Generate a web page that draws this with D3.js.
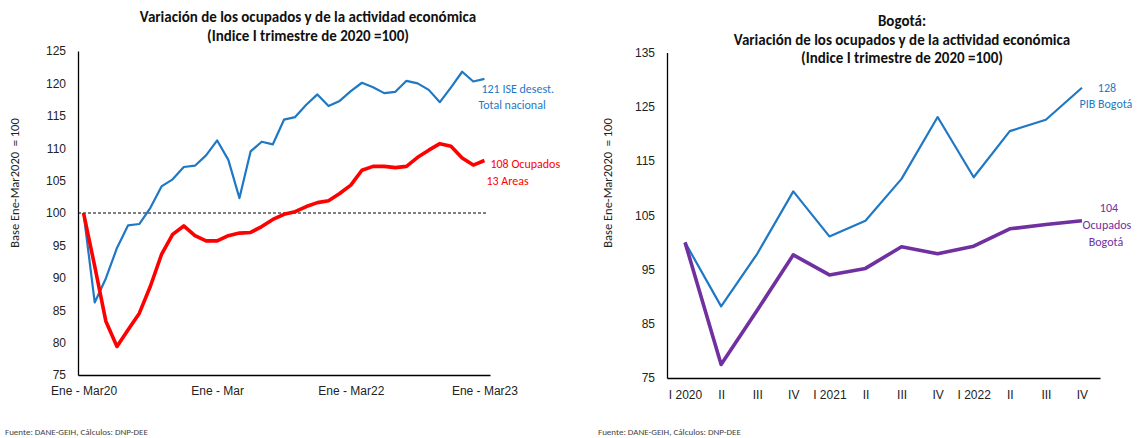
<!DOCTYPE html>
<html>
<head>
<meta charset="utf-8">
<script src="https://cdn.jsdelivr.net/npm/d3@7"></script>
<style>
	body { margin: 0; background: #ffffff; }
	svg { display: block; font-family: Carlito, Calibri, Lato, sans-serif; }
</style>
</head>
<body>
<div id="Main_Part"></div>
<script>

// ---- left chart: trimestre movil, Ene-Mar20 .. Ene-Mar23
var MonthCategories = ["Ene-Mar20","Feb-Abr20","Mar-May20","Abr-Jun20","May-Jul20","Jun-Ago20","Jul-Sep20","Ago-Oct20","Sep-Nov20","Oct-Dic20","Nov-Ene21","Dic-Feb21",
	"Ene-Mar21","Feb-Abr21","Mar-May21","Abr-Jun21","May-Jul21","Jun-Ago21","Jul-Sep21","Ago-Oct21","Sep-Nov21","Oct-Dic21","Nov-Ene22","Dic-Feb22",
	"Ene-Mar22","Feb-Abr22","Mar-May22","Abr-Jun22","May-Jul22","Jun-Ago22","Jul-Sep22","Ago-Oct22","Sep-Nov22","Oct-Dic22","Nov-Ene23","Dic-Feb23",
	"Ene-Mar23"];
var MonthTickValues = ["Ene-Mar20","Ene-Mar21","Ene-Mar22","Ene-Mar23"];
var MonthTickLabels = ["Ene - Mar20","Ene - Mar","Ene - Mar22","Ene - Mar23"];
var IseValues = [100, 86.2, 89.9, 94.6, 98.1, 98.3, 100.8, 104.1, 105.2, 107.1, 107.3, 108.9,
	111.2, 108.2, 102.3, 109.5, 111.0, 110.6, 114.4, 114.8, 116.7, 118.3, 116.5, 117.3,
	118.8, 120.1, 119.4, 118.5, 118.7, 120.4, 120.0, 119.0, 117.1, 119.4, 121.8, 120.3,
	120.7];
var OcupadosValues = [100, 91.8, 83.3, 79.4, 82.0, 84.5, 88.7, 93.6, 96.7, 98.0, 96.5, 95.7,
	95.7, 96.5, 96.9, 97.0, 97.9, 99.0, 99.8, 100.2, 101.0, 101.6, 101.9, 103.0,
	104.3, 106.6, 107.2, 107.2, 107.0, 107.2, 108.6, 109.7, 110.7, 110.3, 108.5, 107.4,
	108.1];
var LeftTicks = [75, 80, 85, 90, 95, 100, 105, 110, 115, 120, 125];

// ---- right chart: Bogota trimestral
var QuarterCategories = ["2020-I","2020-II","2020-III","2020-IV","2021-I","2021-II","2021-III","2021-IV","2022-I","2022-II","2022-III","2022-IV"];
var QuarterLabels = ["I 2020","II","III","IV","I 2021","II","III","IV","I 2022","II","III","IV"];
var PibBogotaValues = [100, 88.2, 97.9, 109.4, 101.1, 104.0, 111.7, 123.1, 112.0, 120.5, 122.6, 128.5];
var OcupadosBogotaValues = [100, 77.5, 87.5, 97.7, 94.0, 95.2, 99.2, 97.9, 99.3, 102.5, 103.3, 104.0];
var RightTicks = [75, 85, 95, 105, 115, 125, 135];

var BlueColor = "#1F78C4";
var RedColor = "#FF0000";
var PurpleColor = "#7030A0";
var FontLittleSize = 9;
var FontMiddleSize = 12;
var FontLargeSize = 15;

var Svg = d3.select('#Main_Part')
	.append("svg")
	.attr("width",1141)
	.attr("height",438);

function DrawAxes(Group,XScale,YScale,TickValues,TickLabels,YTicks,XAxisY,LabelY)
{
	var YAxis = Group.append("g")
	.attr("transform","translate(" + XScale.range()[0] + ",0)")
	.call(d3.axisLeft(YScale).tickValues(YTicks).tickSize(0).tickPadding(12));
	YAxis.select(".domain").attr("stroke","#000").attr("stroke-width",1.3);
	YAxis.selectAll("text")
	.style("font-size",FontMiddleSize+"px")
	.style("fill","#222");

	var XAxis = Group.append("g")
	.attr("transform","translate(0," + XAxisY + ")")
	.call(d3.axisBottom(XScale).tickValues(TickValues).tickSize(0).tickPadding(LabelY)
		.tickFormat(function(d,i){ return TickLabels[i]; }));
	XAxis.select(".domain").attr("stroke","#000").attr("stroke-width",1.3);
	XAxis.selectAll("text")
	.style("font-size",FontMiddleSize+"px")
	.style("fill","#222");
	return null;
}

function DrawLine(Group,XScale,YScale,Categories,Values,Color,Width)
{
	var LineMaker = d3.line()
	.x(function(d,i){ return XScale(Categories[i]); })
	.y(function(d){ return YScale(d); });

	Group.append("path")
	.datum(Values)
	.attr("d",LineMaker)
	.attr("fill","none")
	.attr("stroke",Color)
	.attr("stroke-width",Width)
	.attr("stroke-linejoin","round");
	return null;
}

function TitleText(Group,Lines,CenterX,FirstY)
{
	Group.selectAll("text.title")
	.data(Lines)
	.enter()
	.append("text")
	.attr("class","title")
	.attr("x",CenterX)
	.attr("y",function(d,i){ return FirstY + i*18.5; })
	.attr("text-anchor","middle")
	.style("font-size",FontLargeSize+"px")
	.style("font-weight","bold")
	.style("fill","#111")
	.text(function(d){ return d; });
	return null;
}

function SideLabel(Group,Lines,X,Y,Color,Anchor)
{
	Group.append("text")
	.attr("text-anchor",Anchor)
	.style("font-size",FontMiddleSize+"px")
	.style("fill",Color)
	.selectAll("tspan")
	.data(Lines)
	.enter()
	.append("tspan")
	.attr("x",function(d){ return X + d.dx; })
	.attr("y",function(d,i){ return Y + i*d.dy; })
	.text(function(d){ return d.t; });
	return null;
}

function YTitle(Group,X,Y)
{
	Group.append("text")
	.attr("transform","translate(" + X + "," + Y + ") rotate(-90)")
	.attr("text-anchor","middle")
	.attr("xml:space","preserve")
	.style("font-size","12.5px")
	.style("fill","#222")
	.style("white-space","pre")
	.text("Base Ene-Mar2020  = 100");
	return null;
}

function SourceText(Group,X)
{
	Group.append("text")
	.attr("x",X)
	.attr("y",435)
	.style("font-size",FontLittleSize+"px")
	.style("fill","#444")
	.text("Fuente: DANE-GEIH, Cálculos: DNP-DEE");
	return null;
}

// ================= left chart
var Left = Svg.append("g");
var LeftX = d3.scalePoint().domain(MonthCategories).range([78,490]).padding(0.5);
var LeftY = d3.scaleLinear().domain([75,125]).range([375,51]);

TitleText(Left,["Variación de los ocupados y de la actividad económica","(Indice I trimestre de 2020 =100)"],308,22);
YTitle(Left,19,183);
DrawAxes(Left,LeftX,LeftY,MonthTickValues,MonthTickLabels,LeftTicks,375,11);

Left.append("line")
.attr("x1",LeftX.range()[0])
.attr("x2",LeftX(MonthCategories[MonthCategories.length-1]) + 2)
.attr("y1",LeftY(100))
.attr("y2",LeftY(100))
.attr("stroke","#000")
.attr("stroke-width",1)
.attr("stroke-dasharray","3,2");

DrawLine(Left,LeftX,LeftY,MonthCategories,IseValues,BlueColor,2.2);
DrawLine(Left,LeftX,LeftY,MonthCategories,OcupadosValues,RedColor,3.6);

var LeftEndX = LeftX(MonthCategories[MonthCategories.length-1]);
SideLabel(Left,[{t:"121 ISE desest.",dx:-3,dy:16},{t:"Total nacional",dx:-6,dy:16}],
	LeftEndX,LeftY(IseValues[IseValues.length-1])+14,BlueColor,"start");
SideLabel(Left,[{t:"108 Ocupados",dx:6,dy:17},{t:"13 Areas",dx:2,dy:17}],
	LeftEndX,LeftY(OcupadosValues[OcupadosValues.length-1])+7,RedColor,"start");
SourceText(Left,5);

// ================= right chart
var Right = Svg.append("g");
var RightX = d3.scalePoint().domain(QuarterCategories).range([667,1100]).padding(0.5);
var RightY = d3.scaleLinear().domain([75,135]).range([378,52.5]);

TitleText(Right,["Bogotá:","Variación de los ocupados y de la actividad económica","(Indice I trimestre de 2020 =100)"],902,26);
YTitle(Right,612,183);
DrawAxes(Right,RightX,RightY,QuarterCategories,QuarterLabels,RightTicks,378,12);

DrawLine(Right,RightX,RightY,QuarterCategories,PibBogotaValues,BlueColor,2.2);
DrawLine(Right,RightX,RightY,QuarterCategories,OcupadosBogotaValues,PurpleColor,3.6);

var RightEndX = RightX(QuarterCategories[QuarterCategories.length-1]);
SideLabel(Right,[{t:"128",dx:25,dy:16},{t:"PIB Bogotá",dx:24,dy:16}],
	RightEndX,RightY(PibBogotaValues[PibBogotaValues.length-1])+4,BlueColor,"middle");
SideLabel(Right,[{t:"104",dx:27,dy:17},{t:"Ocupados",dx:25,dy:17},{t:"Bogotá",dx:24,dy:17}],
	RightEndX,RightY(OcupadosBogotaValues[OcupadosBogotaValues.length-1])-9,PurpleColor,"middle");
SourceText(Right,598);

</script>
</body>
</html>
